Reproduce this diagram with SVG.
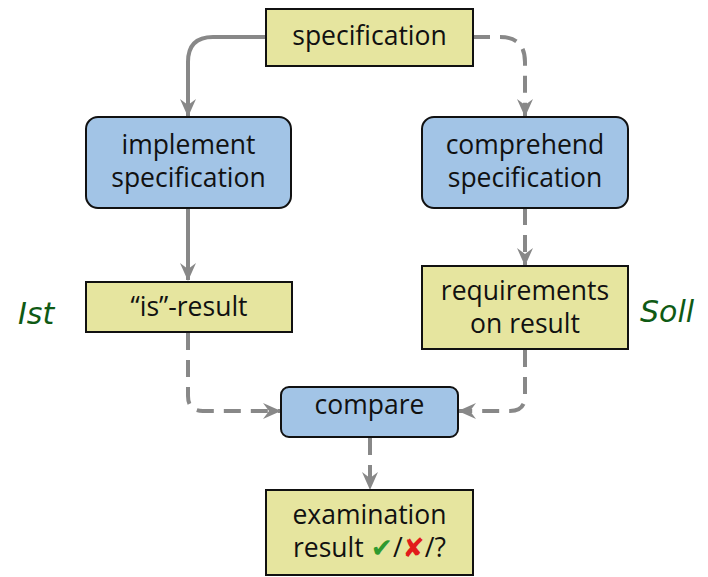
<svg xmlns="http://www.w3.org/2000/svg" width="708" height="577" viewBox="0 0 708 577">
  <defs>
    <marker id="arr" viewBox="0 0 18 16" markerWidth="18" markerHeight="16" refX="17" refY="8" orient="auto" markerUnits="userSpaceOnUse">
      <path d="M0,0 L18,8 L0,16 L6,8 Z" fill="#888888"/>
    </marker>
    <style>
      .box { stroke: #111111; stroke-width: 2; }
      .yel { fill: #e6e59f; }
      .blu { fill: #a2c4e6; }
      .lbl { font-family: "Open Sans", "Liberation Sans", sans-serif; font-size: 26.5px; fill: #111111; text-anchor: middle; }
      .con { fill: none; stroke: #888888; stroke-width: 4; }
      .dash { stroke-dasharray: 17 10; }
      .hand { font-family: "DejaVu Sans", sans-serif; font-style: oblique; font-size: 30px; fill: #0f5a14; }
      .sym { font-family: "DejaVu Sans", sans-serif; font-weight: bold; }
    </style>
  </defs>

  <g id="connectors">
    <!-- specification -> implement specification -->
    <path class="con" d="M266,37 H213 Q188,37 188,62 V116" marker-end="url(#arr)"/>
    <!-- specification -> comprehend specification -->
    <path class="con dash" d="M473,37 H500 Q525,37 525,62 V116" marker-end="url(#arr)"/>
    <!-- implement specification -> is-result -->
    <path class="con" d="M188,208 V280" marker-end="url(#arr)"/>
    <!-- comprehend specification -> requirements -->
    <path class="con dash" d="M525,208 V265" marker-end="url(#arr)"/>
    <!-- is-result -> compare -->
    <path class="con dash" d="M188,333 V396 Q188,411 203,411 H280" marker-end="url(#arr)"/>
    <!-- requirements -> compare -->
    <path class="con dash" d="M525,350 V396 Q525,411 510,411 H459" marker-end="url(#arr)"/>
    <!-- compare -> examination result -->
    <path class="con dash" d="M370,438 V489" marker-end="url(#arr)"/>
  </g>

  <g id="specification">
    <rect class="box yel" x="266" y="9" width="207" height="57"/>
    <text class="lbl" x="369.5" y="45">specification</text>
  </g>

  <g id="implement">
    <rect class="box blu" x="86" y="117" width="205" height="91" rx="12"/>
    <text class="lbl" x="188.5" y="154">implement</text>
    <text class="lbl" x="188.5" y="187">specification</text>
  </g>

  <g id="comprehend">
    <rect class="box blu" x="422" y="117" width="206" height="91" rx="12"/>
    <text class="lbl" x="525" y="154">comprehend</text>
    <text class="lbl" x="525" y="187">specification</text>
  </g>

  <g id="is-result">
    <rect class="box yel" x="86" y="282" width="206" height="50"/>
    <text class="lbl" x="189" y="316">“is”-result</text>
  </g>

  <g id="requirements">
    <rect class="box yel" x="422" y="266" width="206" height="83"/>
    <text class="lbl" x="525" y="300">requirements</text>
    <text class="lbl" x="525" y="333">on result</text>
  </g>

  <g id="compare">
    <rect class="box blu" x="281" y="387" width="177" height="50" rx="8"/>
    <text class="lbl" x="369.5" y="414">compare</text>
  </g>

  <g id="examination">
    <rect class="box yel" x="266" y="490" width="207" height="85"/>
    <text class="lbl" x="369.5" y="524">examination</text>
    <text class="lbl" x="369.5" y="557">result <tspan class="sym" fill="#2f9a2f">✔</tspan>/<tspan class="sym" fill="#e21b1b">✘</tspan>/?</text>
  </g>

  <g id="annotations">
    <text class="hand" x="18" y="324">Ist</text>
    <text class="hand" x="640" y="322">Soll</text>
  </g>
</svg>
